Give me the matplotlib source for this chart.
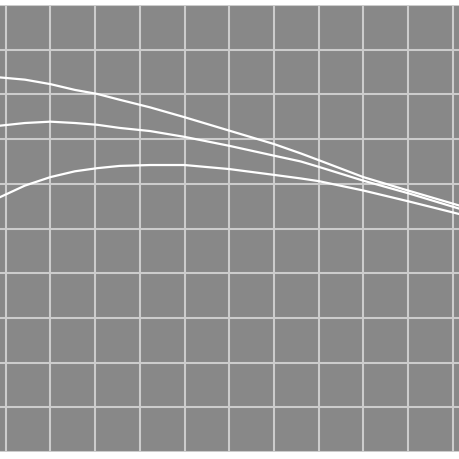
import matplotlib
matplotlib.use("Agg")
import matplotlib.pyplot as plt

x = [-0.13, 0.43, 1.0, 1.55, 2.05, 2.55, 3.23, 4.0, 5.0, 6.0, 6.6, 7.0, 8.0, 9.0, 10.16]
top = [8.38, 8.33, 8.23, 8.10, 8.01, 7.88, 7.71, 7.49, 7.19, 6.89, 6.68, 6.53, 6.15, 5.85, 5.51]
middle = [7.30, 7.36, 7.39, 7.36, 7.32, 7.25, 7.18, 7.05, 6.85, 6.63, 6.50, 6.38, 6.07, 5.79, 5.44]
lower = [5.70, 5.96, 6.15, 6.28, 6.35, 6.40, 6.42, 6.42, 6.33, 6.20, 6.12, 6.06, 5.85, 5.61, 5.32]

fig = plt.figure(figsize=(4.6, 4.6), dpi=100)
ax = fig.add_axes([0, 7 / 460, 1, 447 / 460])
ax.set_facecolor("#888888")

for ys in (top, middle, lower):
    ax.plot(x, ys, color="white", lw=1.6, solid_joinstyle="round")

ax.set_xlim(-0.1275, 10.163)
ax.set_ylim(0, 10)
ax.set_xticks(range(11))
ax.set_yticks(range(11))
ax.grid(True, color="#cccccc", lw=1.5)
ax.set_axisbelow(True)
ax.tick_params(length=0, labelbottom=False, labelleft=False)
for s in ax.spines.values():
    s.set_visible(False)

fig.savefig("out.png", dpi=100)
